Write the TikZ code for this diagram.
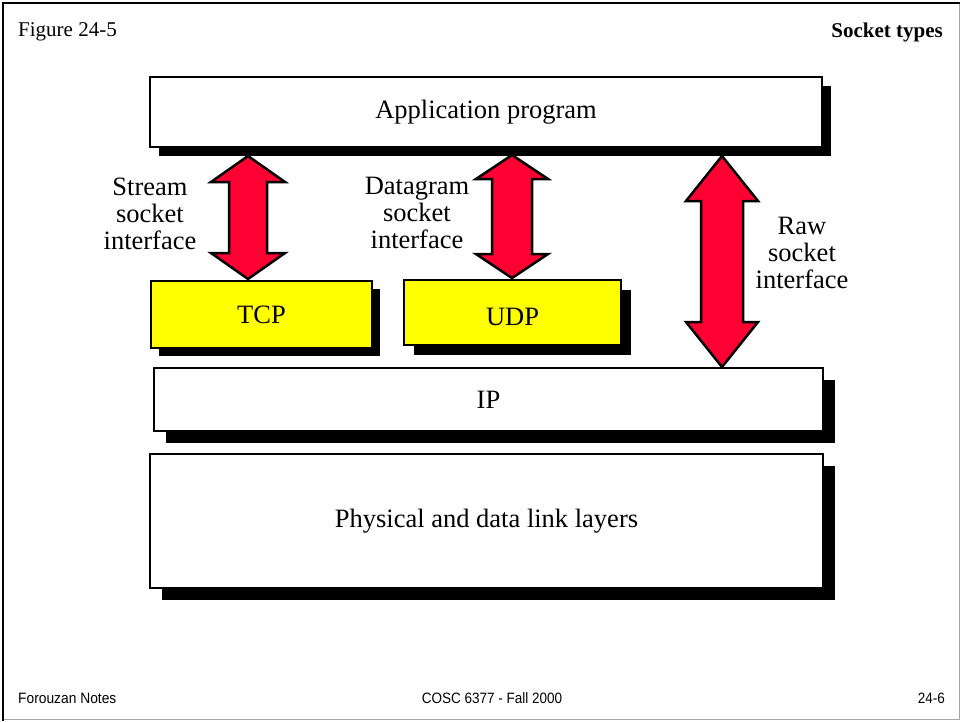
\documentclass[tikz,border=0pt]{standalone}
\usepackage{fontspec}
\setmainfont{Liberation Serif}
\newfontfamily\arialf{Liberation Sans}
\usetikzlibrary{calc,shadows}
\definecolor{arrred}{HTML}{FF0033}
\definecolor{boxyellow}{HTML}{FFFF00}
\newcommand\blockarrow[5]{%
\draw[bigarrow] (#1) -- ($(#1)+(#4,#3)$) -- ($(#1)+(#5,#3)$) -- ($(#2)+(#5,-#3)$) -- ($(#2)+(#4,-#3)$) -- (#2) -- ($(#2)+(-#4,-#3)$) -- ($(#2)+(-#5,-#3)$) -- ($(#1)+(-#5,#3)$) -- ($(#1)+(-#4,#3)$) -- cycle;}
\begin{document}
\begin{tikzpicture}[x=1pt,y=-1pt,
  layerbox/.style={draw=black, line width=2.5pt, fill=white, inner sep=0pt, outer sep=0pt,
    font=\fontsize{26.5}{27}\selectfont},
  protobox/.style={layerbox, fill=boxyellow},
  shad/.style={drop shadow={shadow xshift=#1pt, shadow yshift=-#1pt, fill=black, opacity=1}},
  bigarrow/.style={draw=black, line width=2.5pt, fill=arrred, line join=miter},
  lbl/.style={align=center, inner sep=0pt, font=\fontsize{26.5}{27}\selectfont},
  hdr/.style={inner sep=0pt, font=\fontsize{21}{24}\selectfont},
  ftr/.style={inner sep=0pt, font=\arialf\fontsize{15}{17}\selectfont}]
\useasboundingbox (0,0) rectangle (960,721);
\fill[white] (0,0) rectangle (960,721);
% page frame
\draw[gray!70, line width=1pt] (3,719.5) -- (959,719.5) -- (959,3);
\draw[black, line width=2pt] (3,721) -- (3,3) -- (960,3);
% header and footer
\node[hdr, anchor=base west] (fig) at (18,36) {Figure 24-5};
\node[hdr, anchor=base east] (title) at (943,37) {\bfseries Socket types};
\node[ftr, anchor=base west] (f1) at (18,703) {\scalebox{0.92}[1]{Forouzan Notes}};
\node[ftr, anchor=base] (f2) at (492,703) {\scalebox{0.9}[1]{COSC 6377 - Fall 2000}};
\node[ftr, anchor=base east] (f3) at (945,703) {\scalebox{0.9}[1]{24-6}};
% layer boxes
\node[layerbox, shad=9, minimum width=672, minimum height=70] (app) at (486,112) {Application program};
\node[protobox, shad=8, minimum width=221, minimum height=67] (tcp) at (261.5,314.5) {TCP};
\node[protobox, shad=10, minimum width=217, minimum height=65, text height=26pt, text depth=0pt] (udp) at (512.5,312.5) {UDP};
\node[layerbox, shad=12, minimum width=669, minimum height=63] (ip) at (488.5,399.5) {IP};
\node[layerbox, shad=12, minimum width=673, minimum height=134] (phys) at (486.5,521) {Physical and data link layers};
% arrows
\coordinate (st) at (248,156);
\coordinate (sb) at (248,279);
\coordinate (dt) at (512,155);
\coordinate (db) at (512,278);
\coordinate (rt) at (722,156);
\coordinate (rb) at (722,367);
\blockarrow{st}{sb}{26}{37}{19}
\blockarrow{dt}{db}{24}{36}{20}
\blockarrow{rt}{rb}{45}{36}{21}
% labels
\node[lbl] (lstream) at (150,214) {Stream\\socket\\interface};
\node[lbl] (ldgram) at (417,213) {Datagram\\socket\\interface};
\node[lbl] (lraw) at (802,253) {Raw\\socket\\interface};
\end{tikzpicture}
\end{document}
